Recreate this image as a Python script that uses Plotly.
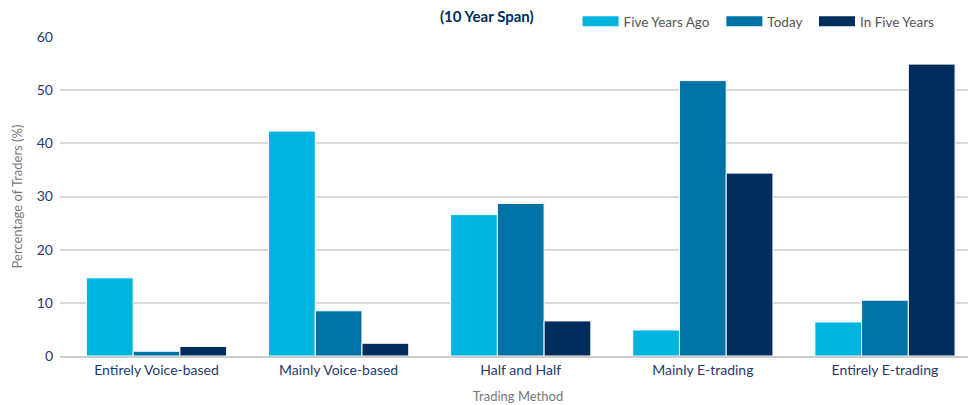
import plotly.graph_objects as go

categories = ["Entirely Voice-based", "Mainly Voice-based", "Half and Half", "Mainly E-trading", "Entirely E-trading"]
series_names = ["Five Years Ago", "Today", "In Five Years"]
five_years_ago = [14.7, 42.3, 26.6, 4.9, 6.4]
today = [0.9, 8.5, 28.7, 51.8, 10.5]
in_five_years = [1.8, 2.4, 6.6, 34.4, 54.9]
colors = ["#00B5DD", "#0073A6", "#002D5C"]
y_ticks = [0, 10, 20, 30, 40, 50, 60]

FONT = "Lato"
fig = go.Figure()
for name, vals, c in zip(series_names, [five_years_ago, today, in_five_years], colors):
    fig.add_trace(go.Bar(x=categories, y=vals, name=name, marker=dict(color=c, line=dict(color="white", width=1)),
                         showlegend=False))
# legend swatches (wide rectangles)
for name, c in zip(series_names, colors):
    fig.add_trace(go.Scatter(x=[None], y=[None], mode="lines", name=name + "\u00a0\u00a0",
                             line=dict(color=c, width=12), showlegend=True))

fig.update_layout(
    width=976, height=405,
    margin=dict(l=52, r=8, t=29, b=57, autoexpand=False),
    paper_bgcolor="white", plot_bgcolor="white",
    font=dict(family=FONT, size=14, color="#1F3B6E"),
    barmode="group", bargap=0.23, bargroupgap=0.0,
    showlegend=True,
    legend=dict(orientation="h", x=0.565, xanchor="left", y=1.0, yanchor="bottom",
                font=dict(size=13.5, color="#555555"), itemwidth=36, traceorder="normal",
                bgcolor="rgba(0,0,0,0)"),
    annotations=[dict(text="<b>(10 Year Span)</b>", x=0.466, xref="paper", y=1.0, yref="paper",
                      yanchor="bottom", yshift=10, showarrow=False, font=dict(size=15, color="#002D5C"))],
)
fig.update_xaxes(range=[-0.53, 4.5], showgrid=False, showline=True, linecolor="#CCCCCC", linewidth=1.5,
                 ticks="", tickfont=dict(size=14, color="#1F3B6E"),
                 title=dict(text="Trading Method", font=dict(size=13, color="#777777"), standoff=15))
fig.update_yaxes(range=[0, 60], tickvals=y_ticks, showgrid=True, gridcolor="#D9D9D9", gridwidth=1.5,
                 zeroline=False, tickfont=dict(size=14, color="#1F3B6E"), ticks="", ticklabelstandoff=6,
                 title=dict(text="Percentage of Traders (%)", font=dict(size=13, color="#777777"), standoff=11))

fig.write_html("out.html")
